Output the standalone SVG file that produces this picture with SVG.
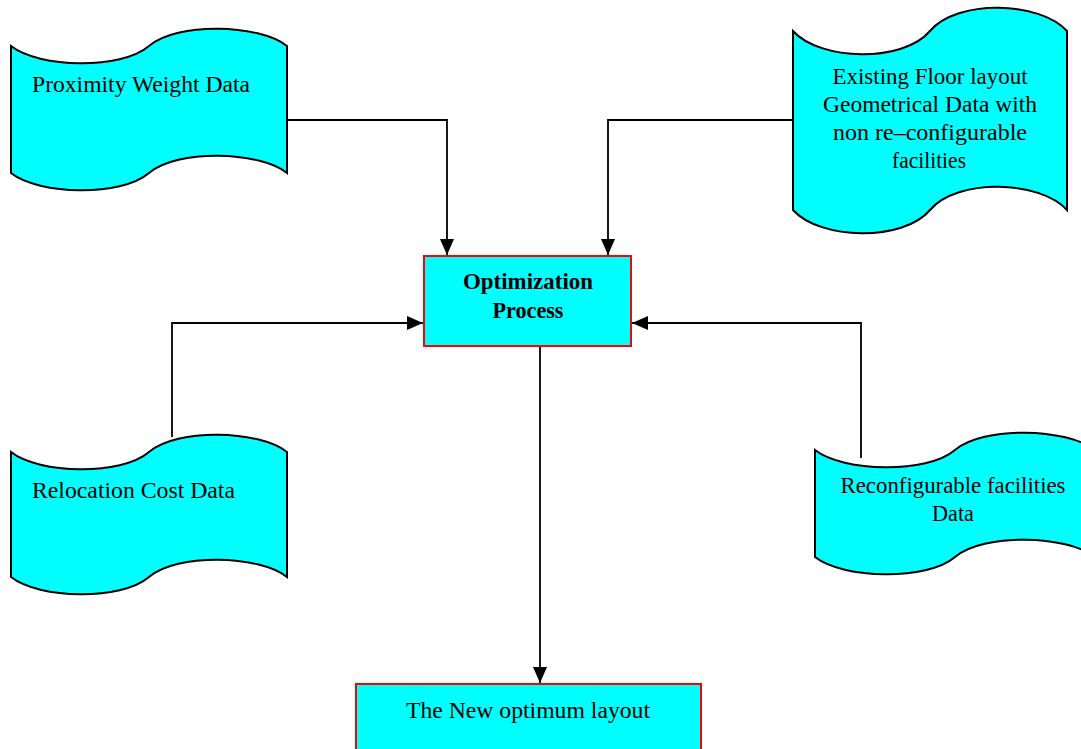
<svg xmlns="http://www.w3.org/2000/svg" width="1081" height="749" viewBox="0 0 1081 749">
<style>
.tape{fill:#00ffff;stroke:#000;stroke-width:2}
.box{fill:#00ffff;stroke:#ff0000;stroke-width:2}
.t{font-family:"Liberation Serif",serif;font-size:22.5px;fill:#000}
.b{font-weight:bold}
.c{stroke:#000;stroke-width:1.8;fill:none}
</style>
<defs>
<marker id="ah" markerWidth="16" markerHeight="14" refX="16" refY="7" orient="auto" markerUnits="userSpaceOnUse">
<path d="M0,0 L16,7 L0,14 Z" fill="#000"/>
</marker>
</defs>
<rect width="1081" height="749" fill="#fff"/>
<g id="connectors">
<path class="c" d="M287,120 H447 V255" marker-end="url(#ah)"/>
<path class="c" d="M793,120 H608 V255" marker-end="url(#ah)"/>
<path class="c" d="M172,437 V323 H423" marker-end="url(#ah)"/>
<path class="c" d="M861,458 V323 H632" marker-end="url(#ah)"/>
<path class="c" d="M540,346 V683" marker-end="url(#ah)"/>
</g>
<g id="proximity">
<path class="tape" d="M11,46 C39,68 121,70 149,46 C177,22 259,24 287,46 L287,173 C259,151 177,149 149,173 C121,197 39,195 11,173 Z"/>
<text class="t" x="32" y="92" textLength="218" lengthAdjust="spacingAndGlyphs">Proximity Weight Data</text>
</g>
<g id="existing">
<path class="tape" d="M793,31 C820,61 903,63 930,31 C957,-1 1040,1 1067,31 L1067,210 C1040,180 957,178 930,210 C903,242 820,240 793,210 Z"/>
<text class="t" text-anchor="middle" x="930" y="84" textLength="195" lengthAdjust="spacingAndGlyphs">Existing Floor layout</text>
<text class="t" text-anchor="middle" x="930" y="112" textLength="214" lengthAdjust="spacingAndGlyphs">Geometrical Data with</text>
<text class="t" text-anchor="middle" x="930" y="140" textLength="194" lengthAdjust="spacingAndGlyphs">non re–configurable</text>
<text class="t" text-anchor="middle" x="929" y="168" textLength="74" lengthAdjust="spacingAndGlyphs">facilities</text>
</g>
<g id="optimization">
<rect class="box" x="424" y="256" width="207" height="90"/>
<text class="t b" text-anchor="middle" x="528" y="289" textLength="130" lengthAdjust="spacingAndGlyphs">Optimization</text>
<text class="t b" text-anchor="middle" x="528" y="318" textLength="71" lengthAdjust="spacingAndGlyphs">Process</text>
</g>
<g id="relocation">
<path class="tape" d="M11,452 C39,474 121,476 149,452 C177,428 259,430 287,452 L287,577 C259,555 177,553 149,577 C121,601 39,599 11,577 Z"/>
<text class="t" x="32" y="498" textLength="203" lengthAdjust="spacingAndGlyphs">Relocation Cost Data</text>
</g>
<g id="reconfigurable">
<path class="tape" d="M815,450 C843,472 927,474 955,450 C983,426 1067,428 1095,450 L1095,557 C1067,535 983,533 955,557 C927,581 843,579 815,557 Z"/>
<text class="t" text-anchor="middle" x="953" y="493" textLength="225" lengthAdjust="spacingAndGlyphs">Reconfigurable facilities</text>
<text class="t" text-anchor="middle" x="953" y="521" textLength="42" lengthAdjust="spacingAndGlyphs">Data</text>
</g>
<g id="newlayout">
<rect class="box" x="356" y="684" width="345" height="80"/>
<text class="t" text-anchor="middle" x="528" y="718" textLength="244" lengthAdjust="spacingAndGlyphs">The New optimum layout</text>
</g>
</svg>
